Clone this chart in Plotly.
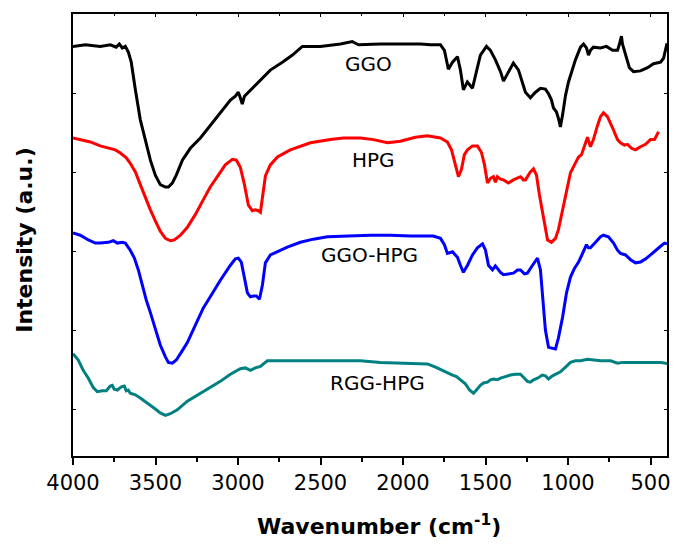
import plotly.graph_objects as go

# ---- data (wavenumber in cm^-1, intensity in arbitrary units) ----
ggo_wn = [4000,3925,3835,3774,3738,3719,3701,3683,3665,3647,3622,3592,3562,3531,3501,3471,3440,3422,3398,3374,
          3337,3289,3228,3168,3107,3046,3016,2998,2986,2974,2961,2937,2901,2852,2804,2731,2670,2610,2501,2379,
          2307,2288,2270,2137,2016,1894,1834,1773,1749,1725,1700,1670,1652,1634,1610,1597,1579,1555,1531,1494,
          1470,1440,1409,1391,1361,1331,1300,1282,1258,1228,1197,1167,1137,1118,1100,1088,1070,1058,1046,1033,
          1015,997,979,955,924,906,888,876,864,846,803,767,730,700,688,676,670,658,646,628,
          603,561,518,482,439,421,400]
ggo_int = [5.59,5.61,5.59,5.61,5.58,5.62,5.57,5.59,5.52,5.39,5.04,4.66,4.41,4.15,3.96,3.84,3.81,3.81,3.86,3.96,
           4.15,4.30,4.43,4.59,4.76,4.91,4.96,5.01,4.94,4.86,4.96,5.01,5.08,5.19,5.29,5.39,5.48,5.59,5.59,5.62,
           5.65,5.63,5.61,5.62,5.62,5.62,5.61,5.61,5.54,5.30,5.39,5.46,5.29,5.04,5.14,5.10,5.06,5.27,5.48,5.59,
           5.54,5.42,5.27,5.15,5.27,5.38,5.29,5.16,5.01,4.94,5.01,5.06,5.05,4.99,4.91,4.81,4.76,4.68,4.57,4.72,
           4.97,5.14,5.27,5.42,5.58,5.62,5.57,5.48,5.54,5.58,5.57,5.59,5.54,5.54,5.62,5.72,5.62,5.54,5.44,5.32,
           5.27,5.28,5.32,5.37,5.39,5.44,5.63]

hpg_wn = [4000,3956,3895,3835,3786,3744,3713,3677,3653,3622,3592,3562,3531,3501,3471,3440,3410,3386,3349,3307,
          3259,3210,3168,3119,3077,3034,3010,2986,2961,2937,2913,2895,2877,2864,2852,2834,2804,2761,2683,2622,
          2561,2440,2361,2258,2179,2094,2016,1925,1852,1773,1731,1706,1682,1664,1646,1628,1609,1579,1549,1525,
          1506,1488,1470,1452,1440,1428,1409,1391,1361,1331,1288,1270,1258,1228,1209,1191,1173,1155,1137,1124,
          1100,1076,1058,1033,1009,985,961,936,918,900,882,864,846,821,803,785,761,730,700,682,
          658,639,615,591,561,530,500,476,451]
hpg_int = [4.43,4.41,4.38,4.33,4.30,4.28,4.24,4.18,4.11,4.00,3.84,3.67,3.52,3.38,3.25,3.16,3.13,3.14,3.20,3.30,
           3.46,3.65,3.81,3.96,4.09,4.16,4.15,4.06,3.84,3.58,3.51,3.52,3.51,3.49,3.65,3.95,4.09,4.19,4.28,4.33,
           4.37,4.41,4.43,4.43,4.41,4.37,4.39,4.44,4.46,4.43,4.38,4.28,4.09,3.94,4.03,4.22,4.28,4.33,4.33,4.25,
           4.09,3.86,3.92,3.94,3.87,3.94,3.91,3.90,3.86,3.90,3.94,3.90,3.90,4.00,4.04,3.96,3.71,3.48,3.27,3.14,
           3.11,3.16,3.27,3.52,3.77,3.99,4.09,4.19,4.22,4.34,4.44,4.32,4.41,4.59,4.70,4.75,4.70,4.56,4.41,4.37,
           4.34,4.35,4.30,4.28,4.32,4.35,4.41,4.41,4.51]

ggohpg_wn = [4000,3956,3907,3865,3835,3786,3756,3731,3701,3683,3653,3628,3604,3580,3556,3531,3501,3471,3440,3422,
             3398,3374,3343,3307,3259,3210,3168,3107,3046,3016,2998,2980,2961,2943,2925,2907,2889,2870,2852,2834,
             2804,2755,2701,2622,2543,2458,2349,2198,2076,1955,1816,1773,1749,1731,1700,1670,1652,1634,1609,1579,
             1549,1518,1500,1482,1458,1440,1428,1409,1391,1361,1331,1306,1288,1264,1246,1215,1185,1167,1149,1137,
             1118,1100,1076,1058,1033,1009,985,961,936,918,900,888,876,864,833,803,785,755,724,700,
             682,651,621,591,561,530,500,470,439,415,400]
ggohpg_int = [3.23,3.20,3.14,3.10,3.10,3.11,3.13,3.10,3.11,3.10,3.01,2.91,2.76,2.57,2.38,2.22,2.00,1.81,1.66,1.59,
              1.58,1.62,1.72,1.84,2.06,2.28,2.42,2.63,2.82,2.90,2.91,2.86,2.66,2.47,2.42,2.43,2.43,2.39,2.57,2.85,
              2.95,3.00,3.05,3.11,3.15,3.18,3.19,3.20,3.20,3.19,3.19,3.16,3.08,2.97,2.99,2.92,2.82,2.73,2.82,2.95,
              3.04,3.09,3.01,2.82,2.76,2.81,2.78,2.73,2.70,2.71,2.72,2.76,2.76,2.71,2.72,2.82,2.91,2.76,2.34,2.00,
              1.78,1.77,1.76,1.90,2.16,2.47,2.67,2.78,2.86,2.94,3.04,3.08,3.04,3.04,3.11,3.18,3.20,3.18,3.10,3.01,
              2.97,2.95,2.89,2.85,2.86,2.90,2.95,3.01,3.06,3.10,3.09]

rgghpg_wn = [4000,3968,3938,3907,3877,3853,3822,3798,3774,3762,3750,3731,3707,3689,3677,3665,3653,3622,3592,3550,
             3501,3471,3440,3410,3368,3307,3259,3216,3168,3107,3046,2986,2955,2925,2895,2864,2840,2822,2743,2622,
             2440,2258,2137,2016,1925,1852,1803,1755,1731,1700,1676,1652,1622,1597,1573,1555,1531,1512,1488,1470,
             1452,1428,1409,1379,1349,1318,1288,1264,1246,1228,1209,1185,1155,1137,1118,1094,1070,1046,1015,985,
             955,924,882,846,803,742,700,670,621,561,500,439,409,400]
rgghpg_int = [1.70,1.62,1.49,1.39,1.27,1.22,1.23,1.23,1.29,1.30,1.25,1.24,1.28,1.29,1.23,1.24,1.20,1.18,1.14,1.08,
              1.00,0.95,0.92,0.94,0.99,1.10,1.16,1.22,1.28,1.35,1.44,1.51,1.52,1.49,1.52,1.54,1.58,1.61,1.61,1.61,
              1.61,1.61,1.59,1.58,1.58,1.57,1.53,1.48,1.46,1.43,1.41,1.37,1.32,1.24,1.20,1.24,1.30,1.33,1.34,1.37,
              1.38,1.37,1.39,1.41,1.43,1.44,1.44,1.39,1.35,1.34,1.37,1.39,1.43,1.42,1.38,1.42,1.44,1.47,1.53,1.59,
              1.61,1.61,1.63,1.62,1.61,1.61,1.58,1.59,1.59,1.59,1.59,1.59,1.58,1.57]

series = [
    ("GGO", ggo_wn, ggo_int, "#000000"),
    ("HPG", hpg_wn, hpg_int, "#ff0000"),
    ("GGO-HPG", ggohpg_wn, ggohpg_int, "#0000ff"),
    ("RGG-HPG", rgghpg_wn, rgghpg_int, "#008080"),
]
label_pos = {"GGO": (2210, 5.37), "HPG": (2179, 4.15), "GGO-HPG": (2204, 2.95), "RGG-HPG": (2155, 1.33)}

x_ticks = [4000, 3500, 3000, 2500, 2000, 1500, 1000, 500]
y_ticks = [1, 2, 3, 4, 5, 6]
x_range = [4000, 400]
y_range = [0.405, 6.0]

FONT = "DejaVu Sans, Arial, sans-serif"

fig = go.Figure()
for name, xs, ys, col in series:
    assert len(xs) == len(ys), name
    fig.add_trace(go.Scatter(x=xs, y=ys, mode="lines", name=name,
                             line=dict(color=col, width=3), showlegend=False))
# helper trace to activate mirrored axes
fig.add_trace(go.Scatter(x=[4000], y=[6.0], mode="markers", marker=dict(size=1, opacity=0),
                         xaxis="x2", yaxis="y2", showlegend=False, hoverinfo="skip"))

for name, (lx, ly) in label_pos.items():
    fig.add_annotation(x=lx, y=ly, text=name, showarrow=False,
                       font=dict(family=FONT, size=20, color="black"))

# axis titles
fig.add_annotation(xref="paper", yref="paper", x=0.515, y=-0.156, text="<b>Wavenumber (cm<sup>-1</sup>)</b>",
                   showarrow=False, xanchor="center", yanchor="middle", font=dict(family=FONT, size=22, color="black"))
fig.add_annotation(xref="paper", yref="paper", x=-0.081, y=0.489, text="<b>Intensity (a.u.)</b>", textangle=-90,
                   showarrow=False, xanchor="center", yanchor="middle", font=dict(family=FONT, size=22, color="black"))

fig.update_layout(
    width=674, height=545,
    margin=dict(l=73, r=7, t=14, b=89),
    plot_bgcolor="white", paper_bgcolor="white",
    font=dict(family=FONT, color="black"),
    xaxis=dict(range=x_range, tickvals=x_ticks, ticks="outside", ticklen=7, tickwidth=1.5, automargin=False,
               tickcolor="black", showline=True, linecolor="black", linewidth=1.5,
               showgrid=False, zeroline=False, tickfont=dict(size=21, family=FONT),
               minor=dict(dtick=250, ticks="outside", ticklen=4, tickwidth=1.5, tickcolor="black", showgrid=False)),
    yaxis=dict(range=y_range, tickvals=y_ticks, ticks="inside", ticklen=3, tickwidth=1.2, automargin=False,
               tickcolor="black", showticklabels=False, showline=True, linecolor="black", linewidth=1.5,
               showgrid=False, zeroline=False),
    xaxis2=dict(overlaying="x", side="top", anchor="y2", range=x_range, tickvals=x_ticks, ticks="inside",
                ticklen=3, tickwidth=1.2, tickcolor="black", showticklabels=False, showline=True, automargin=False,
                linecolor="black", linewidth=1.5, showgrid=False, zeroline=False,
                minor=dict(dtick=250, ticks="inside", ticklen=2, tickcolor="black", showgrid=False)),
    yaxis2=dict(overlaying="y", side="right", anchor="x2", range=y_range, tickvals=y_ticks, ticks="inside",
                ticklen=3, tickwidth=1.2, tickcolor="black", showticklabels=False, showline=True, automargin=False,
                linecolor="black", linewidth=1.5, showgrid=False, zeroline=False),
)

fig.write_html("out.html", config={"displayModeBar": False},
               post_script="document.body.style.margin='0';document.body.style.padding='0';")
